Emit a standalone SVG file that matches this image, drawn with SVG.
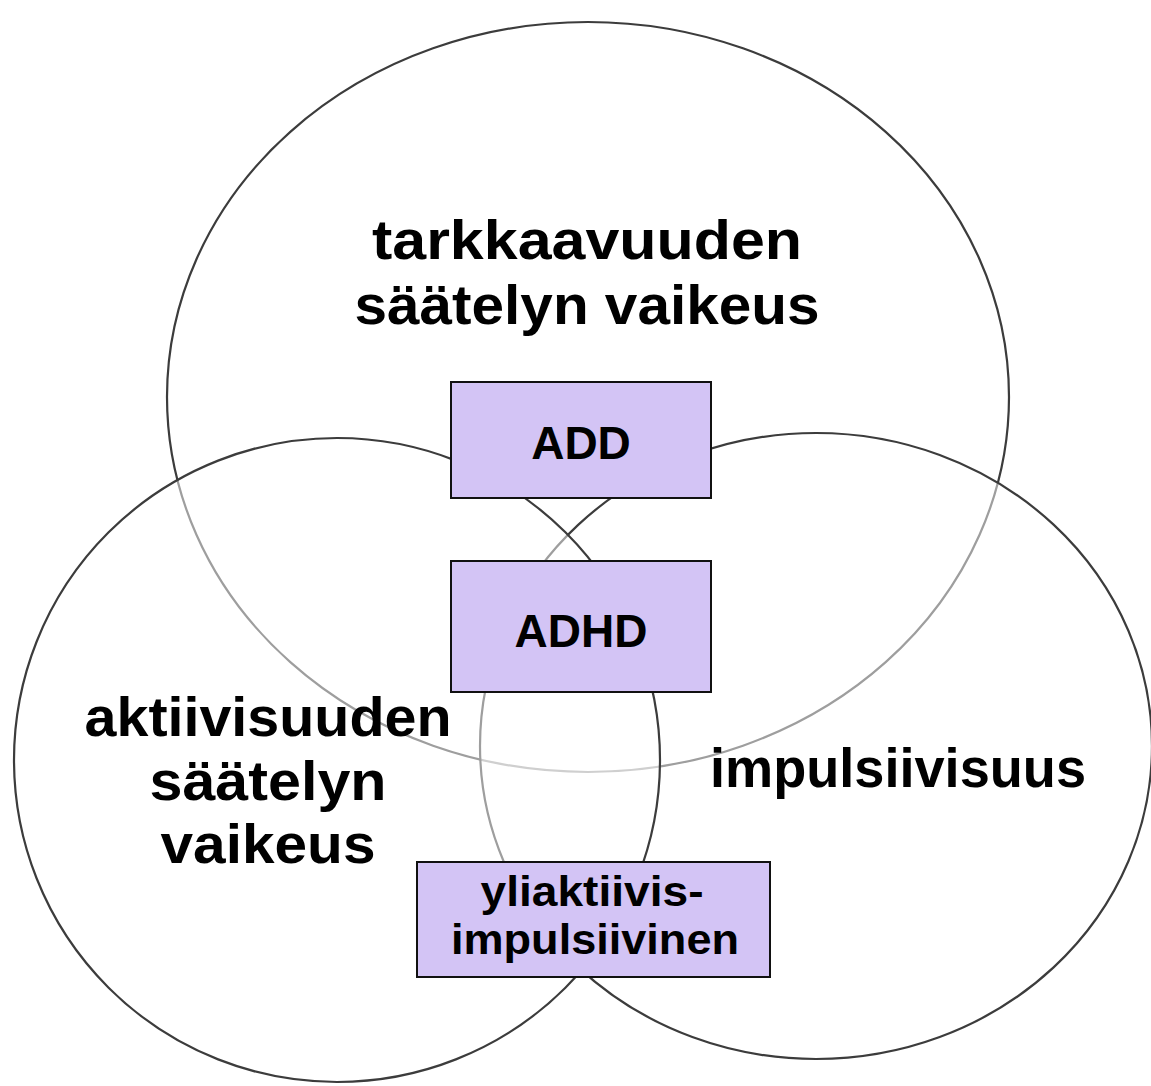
<svg xmlns="http://www.w3.org/2000/svg" width="1151" height="1086" viewBox="0 0 1151 1086">
<style>
.set{fill:#ffffff;fill-opacity:0.5;stroke:#3c3c3c;stroke-width:2.2}
.box{fill:#d3c4f5;stroke:#111;stroke-width:2}
.big{font-family:"Liberation Sans",Arial,sans-serif;font-weight:bold;font-size:56px;fill:#000;text-anchor:middle}
.lbl{font-family:"Liberation Sans",Arial,sans-serif;font-weight:bold;font-size:46px;fill:#000;text-anchor:middle}
.lbl2{font-family:"Liberation Sans",Arial,sans-serif;font-weight:bold;font-size:42px;fill:#000;text-anchor:middle}
</style>
<rect width="1151" height="1086" fill="#ffffff"/>
<g id="connectors"/>
<g id="set-attention">
<ellipse class="set" cx="588" cy="397" rx="421" ry="375"/>
<text class="big" x="587" y="259" textLength="430" lengthAdjust="spacingAndGlyphs">tarkkaavuuden</text>
<text class="big" x="587" y="324" textLength="465" lengthAdjust="spacingAndGlyphs">säätelyn vaikeus</text>
</g>
<g id="set-impulsivity">
<ellipse class="set" cx="816" cy="746" rx="336" ry="313"/>
<text class="big" x="898" y="787" textLength="376" lengthAdjust="spacingAndGlyphs">impulsiivisuus</text>
</g>
<g id="set-activity">
<ellipse class="set" cx="337" cy="760" rx="323" ry="322"/>
<text class="big" x="268" y="736" textLength="367" lengthAdjust="spacingAndGlyphs">aktiivisuuden</text>
<text class="big" x="268" y="800" textLength="237" lengthAdjust="spacingAndGlyphs">säätelyn</text>
<text class="big" x="268" y="863" textLength="215" lengthAdjust="spacingAndGlyphs">vaikeus</text>
</g>
<g id="node-add">
<rect class="box" x="451" y="382" width="260" height="116"/>
<text class="lbl" x="581" y="459">ADD</text>
</g>
<g id="node-adhd">
<rect class="box" x="451" y="561" width="260" height="131"/>
<text class="lbl" x="581" y="647">ADHD</text>
</g>
<g id="node-hyper">
<rect class="box" x="417" y="862" width="353" height="115"/>
<text class="lbl2" x="592" y="906" textLength="223" lengthAdjust="spacingAndGlyphs">yliaktiivis-</text>
<text class="lbl2" x="595" y="954" textLength="288" lengthAdjust="spacingAndGlyphs">impulsiivinen</text>
</g>
</svg>
